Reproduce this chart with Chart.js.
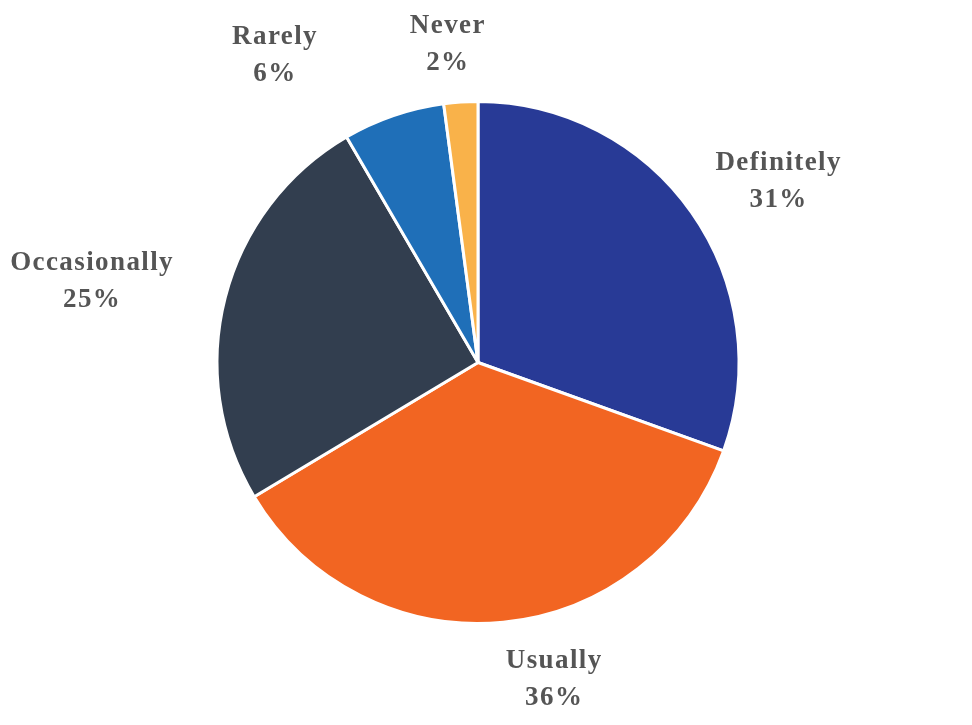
<!DOCTYPE html>
<html>
<head>
<meta charset="utf-8">
<script src="https://cdn.jsdelivr.net/npm/chart.js@4"></script>
<style>
  html, body { margin: 0; padding: 0; background: #fff; }
  #wrap { width: 972px; height: 725px; }
</style>
</head>
<body>
<div id="wrap"><canvas id="pieChart" width="972" height="725"></canvas></div>
<script>
const categories = ['Definitely', 'Usually', 'Occasionally', 'Rarely', 'Never'];
const percents = [30.5, 35.9, 25.2, 6.3, 2.1];
const sliceColors = ['#283a96', '#f26522', '#323e4f', '#1f6fb8', '#f9b24a'];

// label placement tweaks (px), relative to a point just outside each slice
const labelNudge = [[38, 3], [45, -3], [-75, -2], [-99, -4], [-9, 2]];

const outsideLabels = {
  id: 'outsideLabels',
  afterDatasetsDraw(chart) {
    const ctx = chart.ctx;
    const arcs = chart.getDatasetMeta(0).data;
    ctx.save();
    ctx.fillStyle = '#555555';
    ctx.font = 'bold 27px "Liberation Serif", serif';
    ctx.letterSpacing = '1.4px';
    ctx.textAlign = 'center';
    ctx.textBaseline = 'middle';
    arcs.forEach((arc, i) => {
      const mid = (arc.startAngle + arc.endAngle) / 2;
      const d = arc.outerRadius + 60;
      const x = arc.x + Math.cos(mid) * d + labelNudge[i][0];
      const y = arc.y + Math.sin(mid) * d + labelNudge[i][1];
      ctx.fillText(categories[i], x, y - 18);
      ctx.fillText(Math.round(percents[i]) + '%', x, y + 19);
    });
    ctx.restore();
  }
};

new Chart(document.getElementById('pieChart').getContext('2d'), {
  type: 'pie',
  data: {
    labels: categories,
    datasets: [{
      data: percents,
      backgroundColor: sliceColors,
      borderColor: '#ffffff',
      borderWidth: 3
    }]
  },
  options: {
    responsive: false,
    animation: false,
    layout: { padding: { top: 100, bottom: 100, left: 0, right: 16 } },
    plugins: {
      legend: { display: false },
      tooltip: { enabled: false }
    }
  },
  plugins: [outsideLabels]
});
</script>
</body>
</html>
